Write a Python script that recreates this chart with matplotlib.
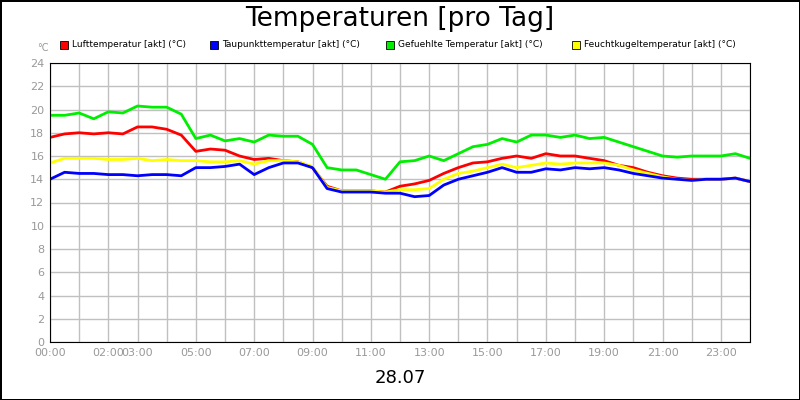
import matplotlib
matplotlib.use('Agg')
import matplotlib.pyplot as plt
import numpy as np

hours = np.arange(0, 24.01, 0.5)
luft = [17.6, 17.9, 18.0, 17.9, 18.0, 17.9, 18.5, 18.5, 18.3, 17.8, 16.4, 16.6, 16.5, 16.0,
        15.7, 15.8, 15.6, 15.5, 15.0, 13.4, 13.0, 13.0, 13.0, 12.9, 13.4, 13.6, 13.9, 14.5,
        15.0, 15.4, 15.5, 15.8, 16.0, 15.8, 16.2, 16.0, 16.0, 15.8, 15.6, 15.2, 15.0, 14.6,
        14.3, 14.1, 14.0, 14.0, 14.0, 14.1, 13.8]
taupunkt = [14.0, 14.6, 14.5, 14.5, 14.4, 14.4, 14.3, 14.4, 14.4, 14.3, 15.0, 15.0, 15.1, 15.3,
            14.4, 15.0, 15.4, 15.4, 15.0, 13.2, 12.9, 12.9, 12.9, 12.8, 12.8, 12.5, 12.6, 13.5,
            14.0, 14.3, 14.6, 15.0, 14.6, 14.6, 14.9, 14.8, 15.0, 14.9, 15.0, 14.8, 14.5, 14.3,
            14.1, 14.0, 13.9, 14.0, 14.0, 14.1, 13.8]
gefuehlt = [19.5, 19.5, 19.7, 19.2, 19.8, 19.7, 20.3, 20.2, 20.2, 19.6, 17.5, 17.8, 17.3, 17.5,
            17.2, 17.8, 17.7, 17.7, 17.0, 15.0, 14.8, 14.8, 14.4, 14.0, 15.5, 15.6, 16.0, 15.6,
            16.2, 16.8, 17.0, 17.5, 17.2, 17.8, 17.8, 17.6, 17.8, 17.5, 17.6, 17.2, 16.8, 16.4,
            16.0, 15.9, 16.0, 16.0, 16.0, 16.2, 15.8]
feucht = [15.4, 15.8, 15.8, 15.8, 15.7, 15.7, 15.8, 15.6, 15.7, 15.6, 15.6, 15.5, 15.5, 15.6,
          15.3, 15.6, 15.6, 15.5, 15.1, 13.3, 13.0, 13.0, 13.0, 12.9, 13.1, 13.1, 13.2, 14.0,
          14.5, 14.7, 15.0, 15.3, 15.0, 15.2, 15.4, 15.3, 15.4, 15.4, 15.4, 15.2, 14.8, 14.5,
          14.2, 14.0, 13.9, 14.0, 14.0, 14.1, 13.8]

series = [
    ("Lufttemperatur [akt] (°C)", luft, "#ff0000"),
    ("Taupunkttemperatur [akt] (°C)", taupunkt, "#0000ff"),
    ("Gefuehlte Temperatur [akt] (°C)", gefuehlt, "#00ee00"),
    ("Feuchtkugeltemperatur [akt] (°C)", feucht, "#ffff00"),
]
tick_hours = [0, 2, 3, 5, 7, 9, 11, 13, 15, 17, 19, 21, 23]
tick_labels = ["00:00", "02:00", "03:00", "05:00", "07:00", "09:00", "11:00",
               "13:00", "15:00", "17:00", "19:00", "21:00", "23:00"]

fig = plt.figure(figsize=(8, 4), dpi=100)
fig.patch.set_edgecolor('black')
fig.patch.set_linewidth(2)
ax = fig.add_axes([0.0625, 0.145, 0.875, 0.6975])

# draw order: green, red, yellow, blue so blue/red stay visible
for idx in [2, 0, 3, 1]:
    name, vals, col = series[idx]
    ax.plot(hours, vals, color=col, linewidth=2)

ax.set_xlim(0, 24)
ax.set_ylim(0, 24)
ax.set_yticks(range(0, 25, 2))
ax.set_xticks(range(0, 25))
ax.set_xticklabels([tick_labels[tick_hours.index(h)] if h in tick_hours else "" for h in range(25)])
ax.grid(True, color='#c0c0c0', linewidth=1)
ax.tick_params(colors='#999999', labelsize=8, length=0, pad=4)
for s in ax.spines.values():
    s.set_color('black')

fig.text(0.5, 0.952, "Temperaturen [pro Tag]", ha='center', va='center', fontsize=19)
fig.text(0.5, 0.055, "28.07", ha='center', va='center', fontsize=13)
fig.text(0.047, 0.88, "°C", ha='left', va='center', fontsize=7, color='#999999')

xs = [0.075, 0.263, 0.483, 0.715]
for (name, vals, col), x in zip(series, xs):
    fig.patches.append(plt.Rectangle((x, 0.878), 0.01, 0.02, transform=fig.transFigure,
                                     facecolor=col, edgecolor='black', linewidth=0.6))
    fig.text(x + 0.015, 0.888, name, ha='left', va='center', fontsize=6.5)

fig.savefig("out.png", dpi=100)
